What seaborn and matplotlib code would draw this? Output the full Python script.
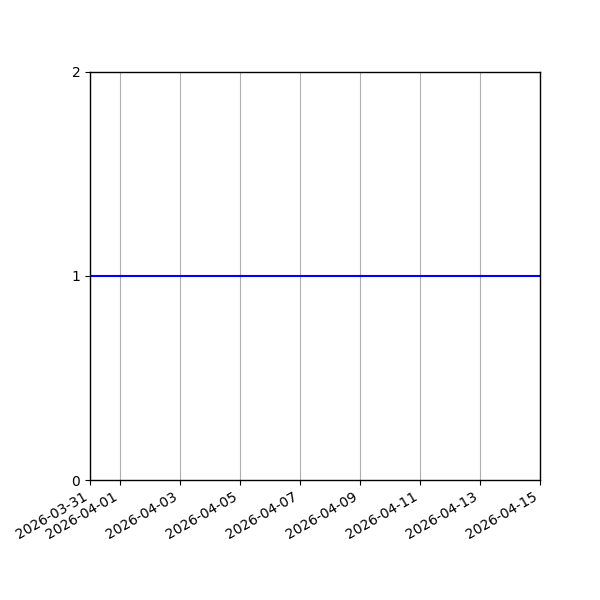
import matplotlib
matplotlib.use("Agg")
import matplotlib.pyplot as plt
import matplotlib.dates as mdates
import seaborn as sns
import pandas as pd

dates = ["2026-03-31", "2026-04-15"]
values = [1, 1]
tick_dates = ["2026-03-31", "2026-04-01", "2026-04-03", "2026-04-05", "2026-04-07",
              "2026-04-09", "2026-04-11", "2026-04-13", "2026-04-15"]
y_ticks = [0, 1, 2]

sns.set_style("ticks")
plt.rcParams['font.family'] = ['DejaVu Sans']

df = pd.DataFrame({"date": pd.to_datetime(dates), "value": values})

fig = plt.figure(figsize=(6, 6), dpi=100)
ax = fig.add_axes([0.15, 0.2, 0.75, 0.68])
sns.lineplot(data=df, x="date", y="value", color="blue", linewidth=1.5, ax=ax)

ax.set_xlim(pd.Timestamp(dates[0]), pd.Timestamp(dates[-1]))
ax.set_ylim(0, 2)
ax.set_yticks(y_ticks)
ax.set_xticks(pd.to_datetime(tick_dates))
ax.xaxis.set_major_formatter(mdates.DateFormatter("%Y-%m-%d"))
ax.grid(axis="x", color="#b0b0b0", linewidth=0.8)
ax.grid(axis="y", visible=False)
ax.set_xlabel("")
ax.set_ylabel("")
for s in ax.spines.values():
    s.set_visible(True)
    s.set_color("black")
    s.set_linewidth(1.0)
ax.tick_params(axis="both", colors="black", labelsize=10, length=3.5, width=0.8, direction="out")
plt.setp(ax.get_xticklabels(), rotation=30, ha="right")

fig.savefig("out.png", dpi=100)
